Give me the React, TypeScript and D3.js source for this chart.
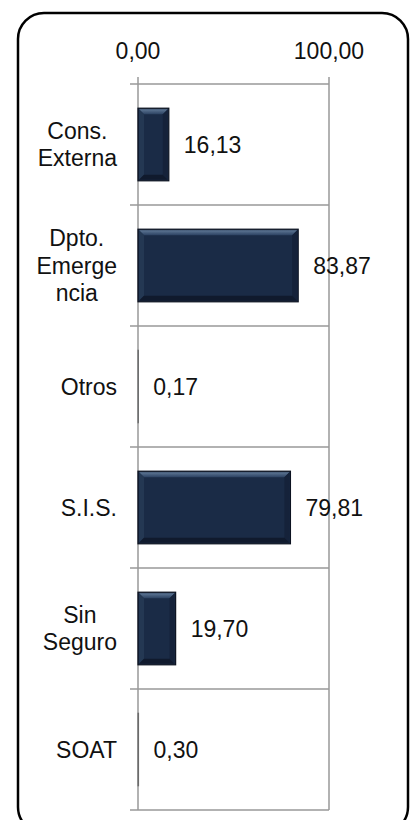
import * as d3 from "d3";
import * as React from "react";

const categories = ["Cons. Externa", "Dpto. Emergencia", "Otros", "S.I.S.", "Sin Seguro", "SOAT"];
const labelLines = [["Cons.", "Externa"], ["Dpto.", "Emerge", "ncia"], ["Otros"], ["S.I.S."], ["Sin", "Seguro"], ["SOAT"]];
const values = [16.13, 83.87, 0.17, 79.81, 19.7, 0.3];
const xTicks = [0, 100];

const W = 413;
const H = 820;
const FONT = '"Liberation Sans", Arial, sans-serif';
const FS = 23;
const fmt = (v: number) => v.toFixed(2).replace(".", ",");

function textWidth(s: string) {
  const c = document.createElement("canvas").getContext("2d")!;
  c.font = `${FS}px ${FONT}`;
  return c.measureText(s).width;
}

function drawChart(svgEl: SVGSVGElement) {
  const svg = d3.select(svgEl);
  svg.selectAll("*").remove();

  const x = d3.scaleLinear().domain([0, 100]).range([138, 329]);
  const y = d3
    .scaleBand<string>()
    .domain(categories)
    .range([84, 810])
    .paddingInner(0.4)
    .paddingOuter(0.2);
  const step = y.step();
  const top = 84;

  const defs = svg.append("defs");
  const g1 = defs.append("linearGradient").attr("id", "bevTop").attr("x1", 0).attr("y1", 0).attr("x2", 0).attr("y2", 1);
  g1.append("stop").attr("offset", "0%").attr("stop-color", "#5f7896");
  g1.append("stop").attr("offset", "100%").attr("stop-color", "#2c4262");

  // outer frame
  svg
    .append("rect")
    .attr("x", 18)
    .attr("y", 13)
    .attr("width", 390)
    .attr("height", 820)
    .attr("rx", 26)
    .attr("fill", "#fff")
    .attr("stroke", "#000")
    .attr("stroke-width", 2.5);

  const grid = svg.append("g").attr("stroke", "#999").attr("stroke-width", 1.5).attr("fill", "none");
  // horizontal band boundaries
  d3.range(categories.length + 1).forEach((i) => {
    const yy = top + i * step;
    grid.append("line").attr("x1", 130).attr("x2", x(100)).attr("y1", yy).attr("y2", yy);
  });
  // vertical lines at ticks
  xTicks.forEach((t) => {
    grid.append("line").attr("x1", x(t)).attr("x2", x(t)).attr("y1", top - 7).attr("y2", top + categories.length * step);
  });

  svg
    .append("g")
    .selectAll("text")
    .data(xTicks)
    .enter()
    .append("text")
    .attr("x", (d) => x(d))
    .attr("y", 51)
    .attr("dy", "0.35em")
    .attr("text-anchor", "middle")
    .attr("font-family", FONT)
    .attr("font-size", FS)
    .attr("fill", "#111")
    .text((d) => fmt(d));

  // bars
  const bars = svg.append("g");
  categories.forEach((c, i) => {
    const x0 = x(0);
    const x1 = x(values[i]);
    const y0 = y(c)!;
    const bh = y.bandwidth();
    const y1 = y0 + bh;
    const bw = x1 - x0;
    const tiny = bw < 3;
    bars
      .append("rect")
      .attr("x", x0)
      .attr("y", y0)
      .attr("width", bw)
      .attr("height", bh)
      .attr("fill", "#1a2b46")
      .attr("stroke", tiny ? "#6b6b6b" : "#0c1220")
      .attr("stroke-width", tiny ? 1 : 1.2);
    if (bw > 12) {
      const b = 6;
      bars
        .append("polygon")
        .attr("points", `${x0 + 1},${y0 + 1} ${x1 - 1},${y0 + 1} ${x1 - b},${y0 + b} ${x0 + b},${y0 + b}`)
        .attr("fill", "url(#bevTop)");
      bars
        .append("polygon")
        .attr("points", `${x0 + 1},${y0 + 1} ${x0 + b},${y0 + b} ${x0 + b},${y1 - b} ${x0 + 1},${y1 - 1}`)
        .attr("fill", "#243853");
      bars
        .append("polygon")
        .attr("points", `${x1 - 1},${y0 + 1} ${x1 - b},${y0 + b} ${x1 - b},${y1 - b} ${x1 - 1},${y1 - 1}`)
        .attr("fill", "#15223a");
      bars
        .append("polygon")
        .attr("points", `${x0 + 1},${y1 - 1} ${x0 + b},${y1 - b} ${x1 - b},${y1 - b} ${x1 - 1},${y1 - 1}`)
        .attr("fill", "#101a2d");
    }
  });

  // value labels
  svg
    .append("g")
    .selectAll("text")
    .data(values)
    .enter()
    .append("text")
    .attr("x", (d) => x(d) + 15)
    .attr("y", (_d, i) => y(categories[i])! + y.bandwidth() / 2)
    .attr("dy", "0.35em")
    .attr("font-family", FONT)
    .attr("font-size", FS)
    .attr("fill", "#111")
    .text((d) => fmt(d));

  // category labels: block right-aligned, lines centred
  const lh = 27.5;
  const cat = svg.append("g").attr("font-family", FONT).attr("font-size", FS).attr("fill", "#111");
  categories.forEach((c, i) => {
    const lines = labelLines[i];
    const maxW = d3.max(lines, (l) => textWidth(l))!;
    const cx = 117 - maxW / 2;
    const cy = y(c)! + y.bandwidth() / 2;
    lines.forEach((l, j) => {
      cat
        .append("text")
        .attr("x", cx)
        .attr("y", cy + (j - (lines.length - 1) / 2) * lh)
        .attr("dy", "0.35em")
        .attr("text-anchor", "middle")
        .text(l);
    });
  });
}

export default function App() {
  const ref = React.useRef<SVGSVGElement>(null);
  React.useEffect(() => {
    if (ref.current) drawChart(ref.current);
  }, []);
  return (
    <svg
      ref={ref}
      width={W}
      height={H}
      style={{ position: "absolute", left: 0, top: 0, background: "#fff" }}
    />
  );
}
